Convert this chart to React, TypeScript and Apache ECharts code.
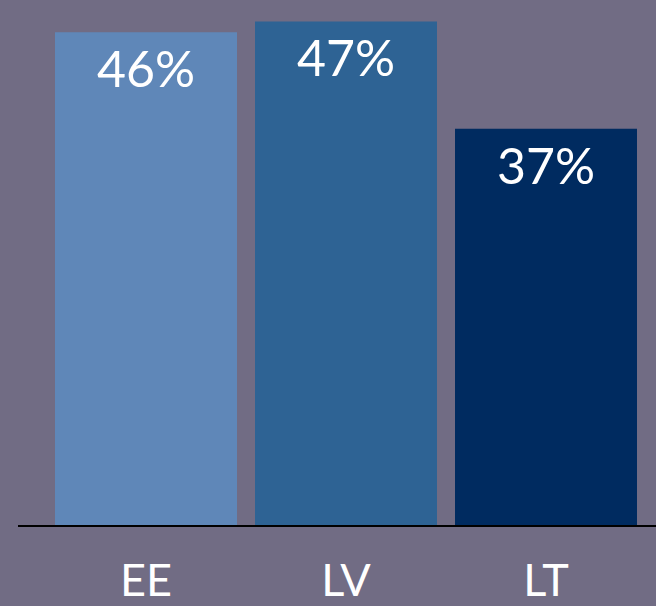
import React, { useEffect, useRef } from "react";
import * as echarts from "echarts";

const categories = ["EE", "LV", "LT"];
const values = [46, 47, 37];
const barColors = ["#5f87b8", "#2e6394", "#002b60"];

export default function App() {
  const ref = useRef<HTMLDivElement>(null);
  useEffect(() => {
    if (!ref.current) return;
    const chart = echarts.init(ref.current, null, { renderer: "svg" });
    chart.setOption({
      animation: false,
      backgroundColor: "#716c84",
      grid: { left: 46, right: 10, top: 0, bottom: 80 },
      xAxis: {
        type: "category",
        data: categories,
        axisLine: { show: false },
        axisTick: { show: false },
        axisLabel: {
          color: "#ffffff",
          fontSize: 45,
          lineHeight: 45,
          fontFamily: "Lato",
          margin: 30,
        },
      },
      yAxis: {
        type: "value",
        min: 0,
        max: 49,
        show: false,
        splitLine: { show: false },
      },
      series: [
        {
          type: "bar",
          barWidth: 182,
          data: values.map((v, i) => ({ value: v, itemStyle: { color: barColors[i] } })),
          label: {
            show: true,
            position: "insideTop",
            distance: 11,
            color: "#ffffff",
            fontSize: 50,
            fontFamily: "Lato",
            formatter: "{c}%",
          },
        },
      ],
      graphic: [
        {
          type: "line",
          shape: { x1: 18, y1: 526, x2: 656, y2: 526 },
          style: { stroke: "#000000", lineWidth: 2 },
          z: 10,
        },
      ],
    });
    return () => chart.dispose();
  }, []);
  return (
    <div
      ref={ref}
      style={{ position: "absolute", left: 0, top: 0, width: 656, height: 606 }}
    />
  );
}
